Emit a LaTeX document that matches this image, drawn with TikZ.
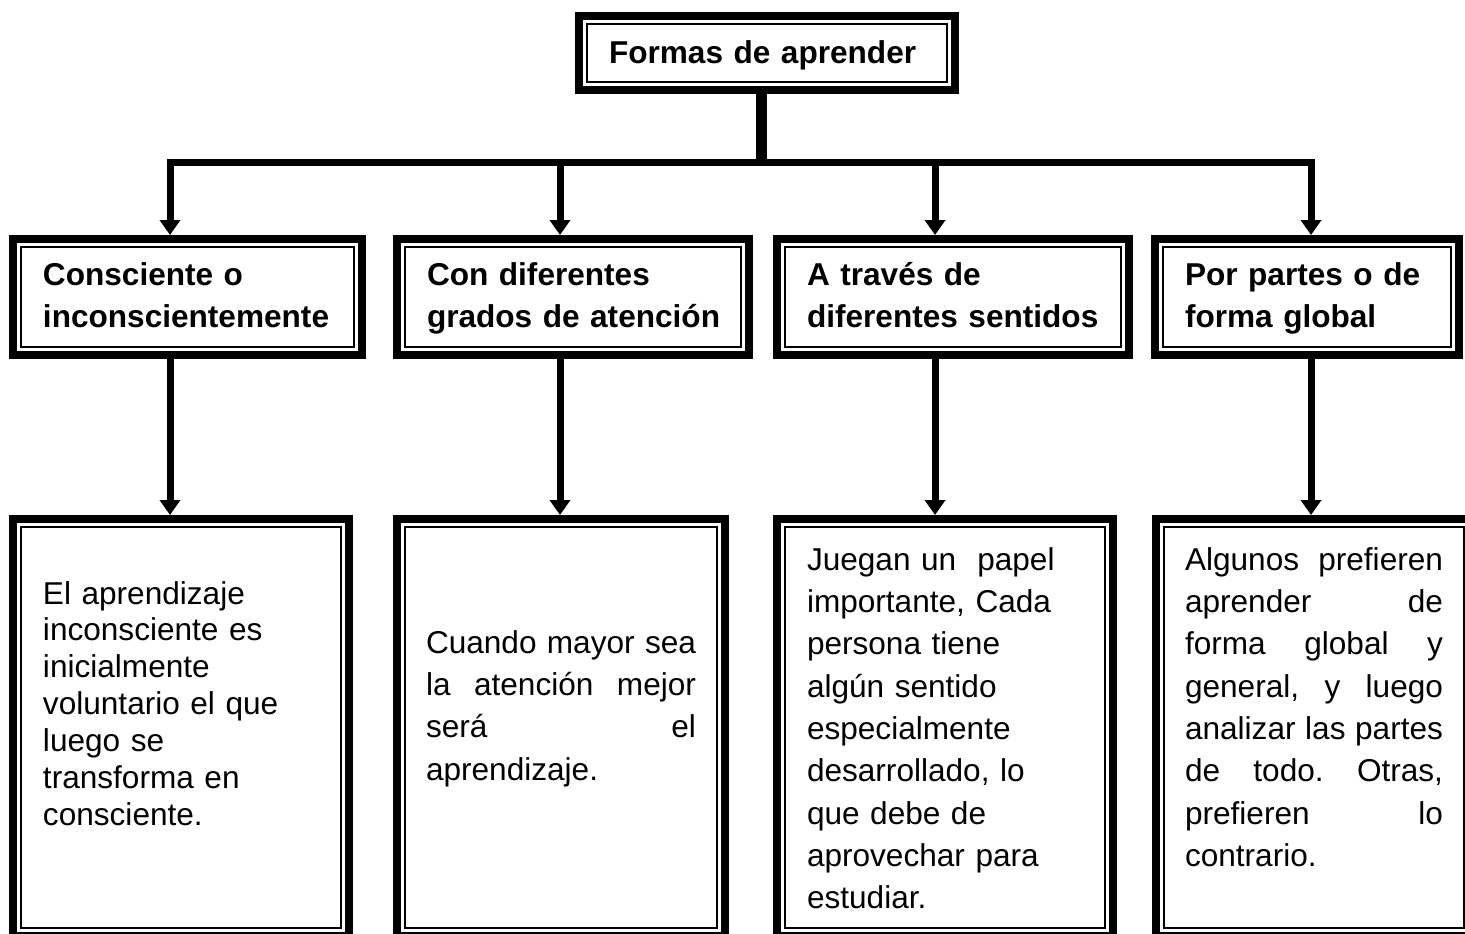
\documentclass[tikz,border=0pt]{standalone}
\usepackage{fontspec}
\setmainfont{Liberation Sans}
\usetikzlibrary{arrows.meta}
\tolerance=10000
\hyphenpenalty=10000
\frenchspacing

\tikzset{
    framebox/.style={draw, line width=8bp, inner sep=0pt,
        path picture={\draw[line width=2bp]
            ([shift={(8bp,-8bp)}]path picture bounding box.north west) rectangle
            ([shift={(-8bp,8bp)}]path picture bounding box.south east);}},
    headbox/.style={framebox, align=left, font=\bfseries\fontsize{31.7}{42.5}\selectfont,
        minimum height=116bp, text height=22bp, text depth=46bp},
    bodybox/.style={framebox, font=\fontsize{31.7}{42.5}\selectfont,
        minimum height=417bp, text height=24bp},
    link/.style={line width=7bp},
}

\begin{document}
\begin{tikzpicture}[x=1bp, y=-1bp, >={Triangle[width=20bp,length=15bp]}]
        \useasboundingbox (0,0) rectangle (1465,933);

        % Top box
        \node[framebox, align=left, font=\bfseries\fontsize{31.7}{42.5}\selectfont,
            minimum width=376bp, minimum height=74bp, text width=316bp,
            text height=24bp, text depth=4bp] (top) at (767,53) {Formas de aprender};

        % Second row: the four ways
        \node[headbox, minimum width=349bp, text width=289bp] (c1) at (187.5,297) {Consciente o\\\mbox{inconscientemente}};
        \node[headbox, minimum width=352bp, text width=292bp] (c2) at (573,297) {Con diferentes\\\mbox{grados de atenci\'on}};
        \node[headbox, minimum width=352bp, text width=292bp] (c3) at (953,297) {A trav\'es de\\\mbox{diferentes sentidos}};
        \node[headbox, minimum width=304bp, text width=244bp] (c4) at (1307,297) {Por partes o de\\forma global};

        % Third row: explanations
        \node[bodybox, align=left, font=\fontsize{31.7}{37.1}\selectfont,
            minimum width=336bp, text width=276bp, text depth=271bp] (d1) at (181,727.5)
            {El aprendizaje\\inconsciente es\\inicialmente\\voluntario el que\\luego se\\transforma en\\consciente.};
        \node[bodybox, align=justify, minimum width=328bp, text width=270bp, text depth=173bp] (d2) at (561,727.5)
            {Cuando mayor sea\linebreak la atenci\'on mejor\linebreak ser\'a el\linebreak aprendizaje.};
        \node[bodybox, align=left, minimum width=336bp, text width=276bp, text depth=339bp] (d3) at (945,727.5)
            {Juegan un\ \ papel\\importante, Cada\\persona tiene\\alg\'un sentido\\especialmente\\desarrollado, lo\\que debe de\\aprovechar para\\estudiar.};
        \node[bodybox, align=justify, minimum width=316bp, text width=258bp, text depth=339bp] (d4) at (1314,727.5)
            {Algunos prefieren\linebreak aprender de\linebreak forma global y\linebreak general, y luego\linebreak analizar las partes\linebreak de todo. Otras,\linebreak prefieren lo\linebreak contrario.};

        % Branch points on the bar
        \coordinate (hub) at (761,162);
        \coordinate (j1) at (170,162);
        \coordinate (j2) at (560,162);
        \coordinate (j3) at (935,162);
        \coordinate (j4) at (1311,162);

        % Trunk and bar
        \draw[line width=11bp] (top.south -| hub) -- (hub);
        \draw[link, <->] (j1 |- c1.north) -- (j1) -- (j4) -- (j4 |- c4.north);
        \draw[link, ->] (j2) -- (j2 |- c2.north);
        \draw[link, ->] (j3) -- (j3 |- c3.north);

        % Down to the explanations
        \foreach \i in {1,...,4}
            \draw[link, ->] (j\i |- c\i.south) -- (j\i |- d\i.north);

\end{tikzpicture}
\end{document}
